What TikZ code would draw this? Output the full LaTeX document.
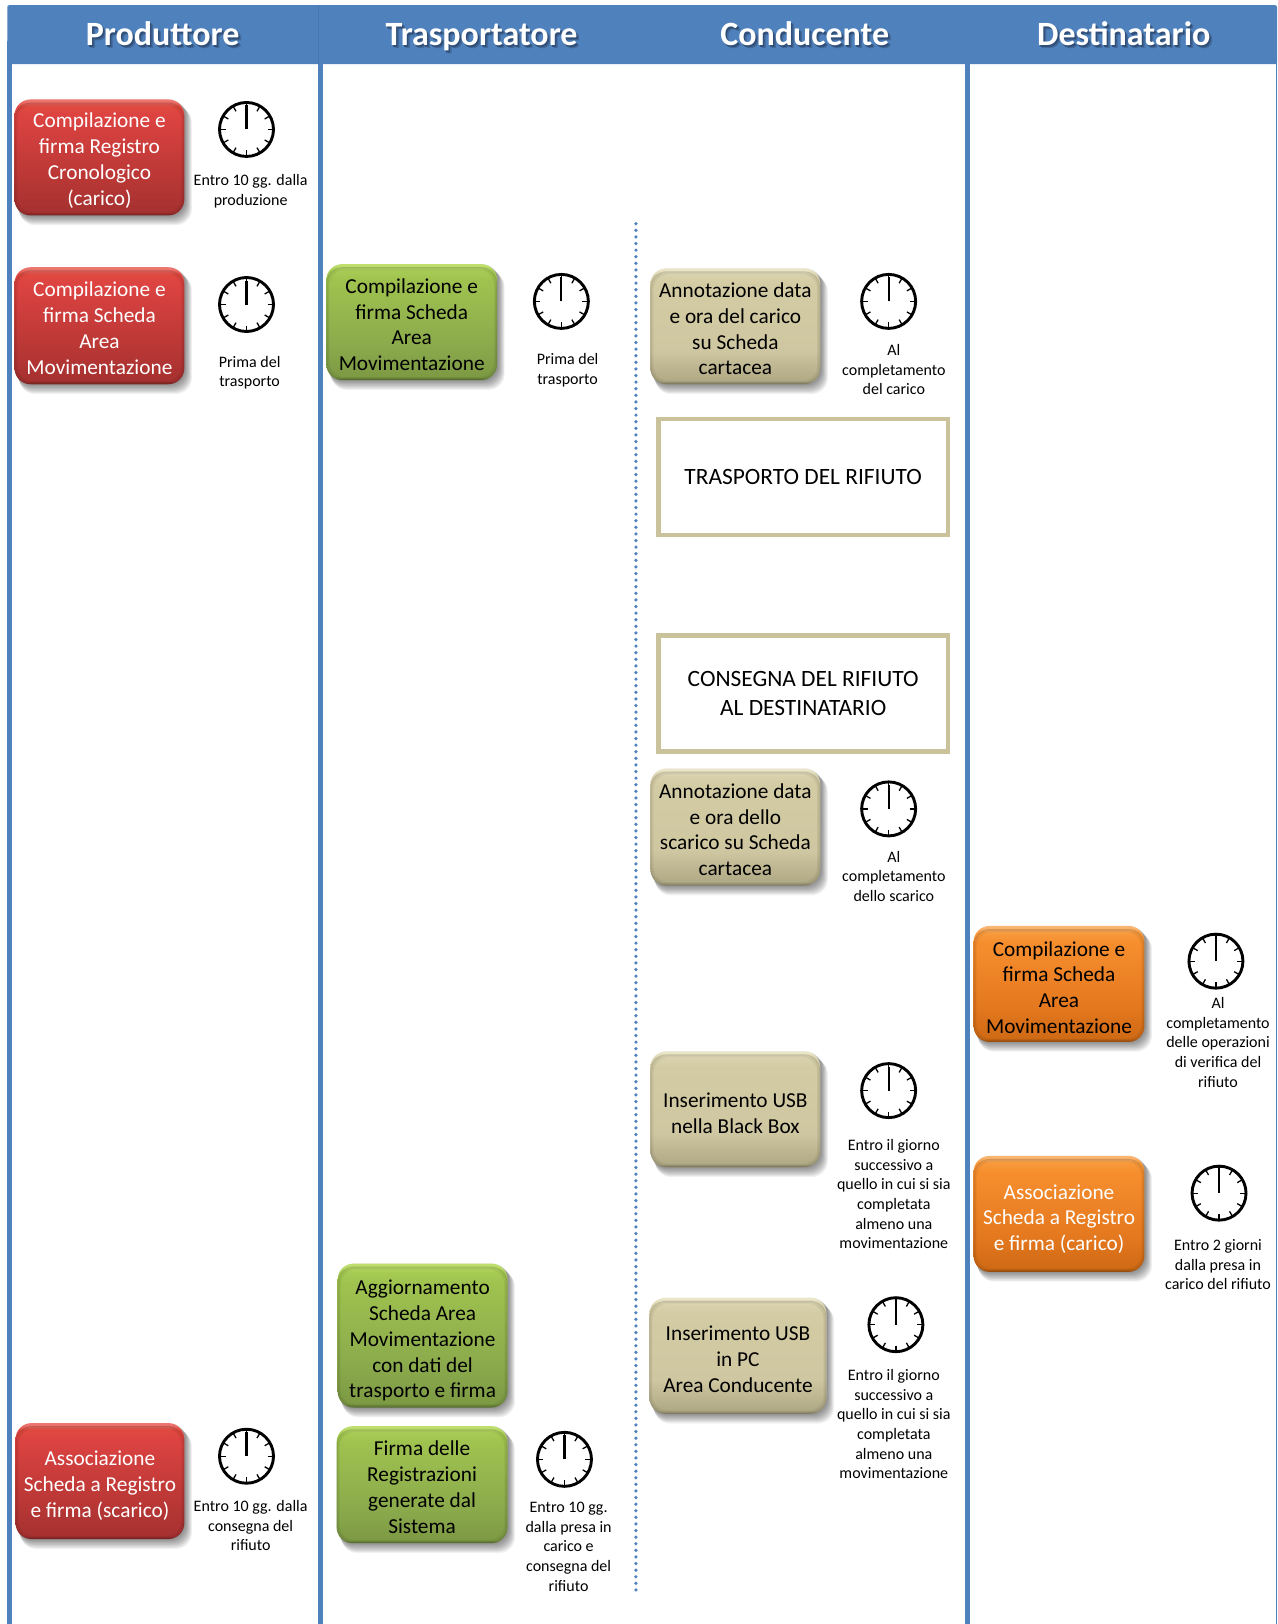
\documentclass[tikz,border=0pt]{standalone}
\usepackage{fontspec}
\setmainfont{Carlito}
\usetikzlibrary{calc}
\definecolor{bandblue}{HTML}{4F81BD}
\definecolor{framecol}{HTML}{C9C29B}
\definecolor{headshadowa}{HTML}{43699A}
\definecolor{headshadowb}{HTML}{2F4F78}
\newcommand\defboxshade[7]{%
  \definecolor{#1a}{HTML}{#2}\definecolor{#1b}{HTML}{#3}\definecolor{#1c}{HTML}{#4}%
  \definecolor{#1d}{HTML}{#5}\definecolor{#1e}{HTML}{#6}\definecolor{#1f}{HTML}{#7}%
  \pgfdeclareverticalshading{#1}{100bp}{color(0bp)=(#1a);color(25bp)=(#1a);color(26.5bp)=(#1b);color(40bp)=(#1c);color(68bp)=(#1d);color(72bp)=(#1e);color(74.5bp)=(#1f);color(100bp)=(#1f)}%
}
\defboxshade{redshade}{8A2A28}{A63130}{B83735}{DC4341}{E0493F}{EC7670}
\defboxshade{greenshade}{637A35}{7D9A44}{8BAA4C}{9FC24F}{A6CB53}{BEDE6E}
\defboxshade{tanshade}{8F8A6C}{B0A985}{CFC7A1}{D3CBA3}{D8D1AC}{EBE6C8}
\defboxshade{orangeshade}{A85510}{CF6A15}{E4781E}{F68E2E}{F89A3C}{FAB673}
\tikzset{
  redbox/.style={shading=redshade,text=white},
  greenbox/.style={shading=greenshade,text=black},
  tanbox/.style={shading=tanshade,text=black},
  orangebox/.style={shading=orangeshade,text=black},
  orangewhite/.style={shading=orangeshade,text=white},
  actbox/.style={rounded corners=16pt,inner sep=0pt,align=center,
    font=\fontsize{21.3}{25.8}\selectfont},
  notelabel/.style={inner sep=0pt,align=center,text=black,
    font=\fontsize{16}{19.6}\selectfont},
  framebox/.style={draw=framecol,line width=4.5pt,fill=white,inner sep=0pt,align=center,
    font=\fontsize{23.4}{29}\selectfont},
  headlabel/.style={inner sep=0pt,anchor=base,text=white,font=\fontsize{34}{38}\selectfont\bfseries},
  clockface/.style={draw=black,line width=2.9pt,fill=white,circle,minimum size=54pt,inner sep=0pt},
}
\newcommand\dn[1]{\rule{0pt}{\dimexpr 15pt+#1pt+#1pt\relax}}
% name, x1, y1, x2, y2, style, text
\newcommand\actnode[7]{%
  \pgfmathsetmacro\bw{(#4-#2)*1.0357}%
  \pgfmathsetmacro\bh{(#5-#3)*1.0357}%
  \foreach \s in {1,2,...,9}{%
    \fill[black,opacity=.055,rounded corners=16pt]
      ($(#2,#3)+(\s*.45+0.5,\s*.9-1)$) rectangle ($(#4,#5)+(\s*.75+0.5,\s*1.05)$);}
  \node[actbox,#6,minimum width=\bw pt,minimum height=\bh pt] (#1) at ({(#2+#4)/2},{(#3+#5)/2}) {#7};
  \foreach \s/\o in {.5/.14,1.5/.09,2.5/.05}{%
    \draw[black,opacity=\o,line width=1pt,rounded corners=15.5pt]
      ($(#2,#3)+(\s,\s+3)$) rectangle ($(#4,#5)+(-\s,-\s)$);}
}
% name, x, y
\newcommand\clocknode[3]{%
  \node[clockface] (#1) at (#2,#3) {};
  \foreach \a in {0,30,...,330}{%
    \draw[black,line width=1.3pt] ($(#1)+(\a:21pt)$) -- ($(#1)+(\a:26pt)$);}
  \draw[black,line width=2.2pt] (#1.center) -- ($(#1)+(90:24pt)$);
}
\newcommand\headtext[1]{\rlap{\kern3pt\raisebox{-3pt}{\textcolor{headshadowa}{#1}}}\rlap{\kern1.5pt\raisebox{-1.5pt}{\textcolor{headshadowb}{#1}}}#1}
\begin{document}
\begin{tikzpicture}[x=1.0357pt,y=-1.0357pt]
\useasboundingbox (0,0) rectangle (1233,1568);
\fill[white] (0,0) rectangle (1233,1568);
% band and lane rules
\fill[bandblue,rounded corners=2pt] (7,5) rectangle (1233,62);
\fill[bandblue] (7,40) rectangle (12,1568);
\fill[bandblue] (307,40) rectangle (312,1568);
\fill[bandblue] (932,40) rectangle (936.5,1568);
\fill[bandblue] (1231.8,40) rectangle (1233,1568);
\draw[bandblue!85!black,line width=.5pt,opacity=.5] (307.5,5) -- (307.5,62);
% headers
\node[headlabel] (hprod) at (157,44) {\headtext{Produttore}};
\node[headlabel] (htras) at (465,44) {\headtext{Trasportatore}};
\node[headlabel] (hcond) at (777,44) {\headtext{Conducente}};
\node[headlabel] (hdest) at (1085,44) {\headtext{Destinatario}};
% dotted separator
\coordinate (dottop) at (614,216);
\coordinate (dotbot) at (614,1541);
\draw[bandblue,line width=3.6pt,line cap=round,dash pattern=on 0pt off 6.6pt] (dottop) -- (dotbot);
% action boxes
\actnode{r1}{14}{96}{178}{208}{redbox}{\dn{3}Compilazione e\\firma Registro\\Cronologico\\(carico)}
\actnode{r2}{14}{258}{178}{371}{redbox}{\dn{2.5}Compilazione e\\firma Scheda\\Area\\Movimentazione}
\actnode{r3}{15}{1374}{178}{1486}{redbox}{\dn{4.5}Associazione\\Scheda a Registro\\e firma (scarico)}
\actnode{g1}{315}{255}{480}{367}{greenbox}{\dn{2.5}Compilazione e\\firma Scheda\\Area\\Movimentazione}
\actnode{g2}{326}{1220}{490}{1359}{greenbox}{\dn{5}Aggiornamento\\Scheda Area\\Movimentazione\\con dati del\\trasporto e firma}
\actnode{g3}{325}{1377}{490}{1490}{greenbox}{\dn{2.5}Firma delle\\Registrazioni\\generate dal\\Sistema}
\actnode{t1}{628}{259}{792}{371}{tanbox}{\dn{2.5}Annotazione data\\e ora del carico\\su Scheda\\cartacea}
\actnode{t2}{628}{742}{792}{855}{tanbox}{\dn{2.5}Annotazione data\\e ora dello\\scarico su Scheda\\cartacea}
\actnode{t3}{628}{1015}{792}{1127}{tanbox}{\dn{3.5}Inserimento USB\\nella Black Box}
\actnode{t4}{627}{1253}{798}{1365}{tanbox}{\dn{3.5}Inserimento USB\\in PC\\Area Conducente}
\actnode{o1}{940}{894}{1105}{1006}{orangebox}{\dn{3.5}Compilazione e\\firma Scheda\\Area\\Movimentazione}
\actnode{o2}{940}{1116}{1105}{1228}{orangewhite}{\dn{5}Associazione\\Scheda a Registro\\e firma (carico)}
% framed steps
\node[framebox,minimum width=289.5pt,minimum height=116pt] (trasp) at (775.5,460.5) {TRASPORTO DEL RIFIUTO};
\node[framebox,minimum width=289.5pt,minimum height=116pt] (cons) at (775.5,669.5) {CONSEGNA DEL RIFIUTO\\AL DESTINATARIO};
% clocks
\clocknode{c1}{238}{125}
\clocknode{c2}{238}{294}
\clocknode{c3}{542}{291}
\clocknode{c4}{858}{291}
\clocknode{c5}{858}{781}
\clocknode{c6}{1174}{928}
\clocknode{c7}{858}{1053}
\clocknode{c8}{1177}{1152}
\clocknode{c9}{865}{1279}
\clocknode{c10}{238}{1406}
\clocknode{c11}{545}{1409}
% notes
\node[notelabel] (n1) at (242,184.5) {Entro 10 gg. dalla\\produzione};
\node[notelabel] (n2) at (241,360) {Prima del\\trasporto};
\node[notelabel] (n3) at (548,357.5) {Prima del\\trasporto};
\node[notelabel] (n4) at (863,357) {Al\\completamento\\del carico};
\node[notelabel] (n5) at (863,846) {Al\\completamento\\dello scarico};
\node[notelabel] (n6) at (1176,1006.5) {Al\\completamento\\delle operazioni\\di verifica del\\rifiuto};
\node[notelabel] (n7) at (863,1153) {Entro il giorno\\successivo a\\quello in cui si sia\\completata\\almeno una\\movimentazione};
\node[notelabel] (n8) at (1176,1221) {Entro 2 giorni\\dalla presa in\\carico del rifiuto};
\node[notelabel] (n9) at (863,1375) {Entro il giorno\\successivo a\\quello in cui si sia\\completata\\almeno una\\movimentazione};
\node[notelabel] (n10) at (242,1473) {Entro 10 gg. dalla\\consegna del\\rifiuto};
\node[notelabel] (n11) at (549,1493.5) {Entro 10 gg.\\dalla presa in\\carico e\\consegna del\\rifiuto};
\end{tikzpicture}
\end{document}
